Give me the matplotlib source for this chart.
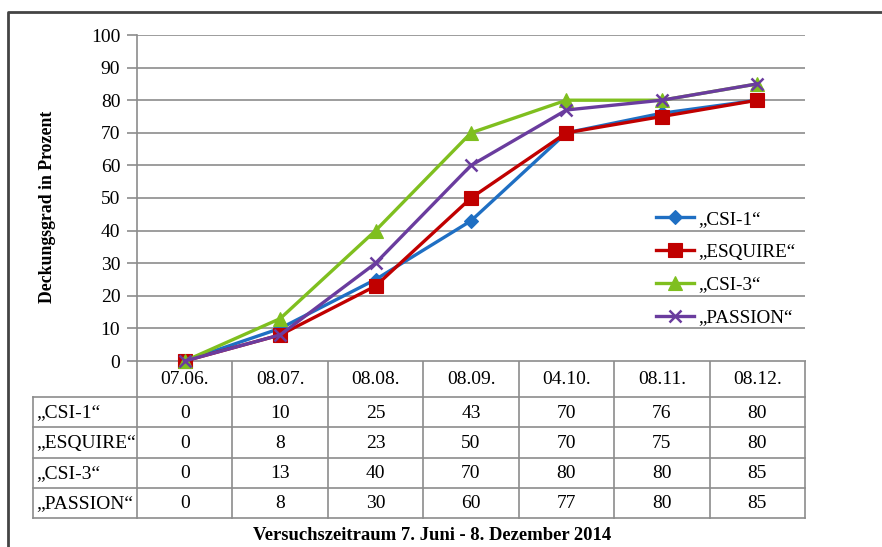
import numpy as np
import matplotlib.pyplot as plt

# daten
dates = ["07.06.", "08.07.", "08.08.", "08.09.", "04.10.", "08.11.", "08.12."]
names = ["„CSI-1“", "„ESQUIRE“", "„CSI-3“", "„PASSION“"]
csi1 = [0, 10, 25, 43, 70, 76, 80]
esquire = [0, 8, 23, 50, 70, 75, 80]
csi3 = [0, 13, 40, 70, 80, 80, 85]
passion = [0, 8, 30, 60, 77, 80, 85]
series = [csi1, esquire, csi3, passion]
yticks = [0, 10, 20, 30, 40, 50, 60, 70, 80, 90, 100]

colors = ["#1f6fc3", "#c00000", "#7fbf1f", "#6a3c9e"]
markers = ["D", "s", "^", "x"]
msizes = [7, 10, 10, 9]

plt.rcParams['font.family'] = ['Liberation Serif', 'DejaVu Serif']

W, H = 882, 547
fig = plt.figure(figsize=(W / 100, H / 100), dpi=100)

# pixel-layout
x0, x1 = 137, 805
y0, y100 = 361, 35
ax = fig.add_axes([x0 / W, (H - y0) / H, (x1 - x0) / W, (y0 - y100) / H])
ax.set_xlim(-0.5, len(dates) - 0.5)
ax.set_ylim(0, 100)
ax.set_yticks(yticks)
ax.set_xticks([])
ax.tick_params(axis='y', length=7, color='#8c8c8c', width=1.2, labelsize=14, pad=5)
for s in ["top", "right", "bottom"]:
    ax.spines[s].set_visible(False)
ax.spines["left"].set_color('#8c8c8c')
ax.spines["left"].set_linewidth(1.2)
for t in yticks:
    ax.axhline(t, color='#8c8c8c', lw=1.2, zorder=1)

x = np.arange(len(dates))
for vals, name, c, m, ms in zip(series, names, colors, markers, msizes):
    ax.plot(x, vals, color=c, lw=2.4, marker=m, ms=ms, mew=1.8 if m == "x" else 0.8,
            mec=c, label=name, clip_on=False, zorder=3)

leg = ax.legend(loc='upper left', bbox_to_anchor=((648 - x0) / (x1 - x0), (y0 - 203) / (y0 - y100)),
                frameon=False, fontsize=13.8, handlelength=2.0, labelspacing=0.8,
                handletextpad=0.2, borderaxespad=0)

# overlay in pixeln fuer tabelle und rahmen
ov = fig.add_axes([0, 0, 1, 1], zorder=-1)
ov.set_xlim(0, W)
ov.set_ylim(H, 0)
ov.axis('off')

# rahmen
ov.plot([8, 8, W + 5], [H + 5, 12, 12], color='#444444', lw=2, solid_capstyle='butt')

grid_c = '#8c8c8c'
colw = (x1 - x0) / len(dates)
rows = [361, 397, 427, 458, 488, 518]
lab_x = 33

# horizontale linien
ov.plot([x0, x1], [rows[0], rows[0]], color=grid_c, lw=1.2)
for r in rows[1:]:
    ov.plot([lab_x, x1], [r, r], color=grid_c, lw=1.2)
# vertikale linien
ov.plot([lab_x, lab_x], [rows[1], rows[-1]], color=grid_c, lw=1.2)
for i in range(len(dates) + 1):
    ov.plot([x0 + i * colw] * 2, [rows[0], rows[-1]], color=grid_c, lw=1.2)

for i, d in enumerate(dates):
    ov.text(x0 + (i + 0.5) * colw, (rows[0] + rows[1]) / 2 + 1, d, ha='center', va='center', fontsize=14)
for j, (name, vals) in enumerate(zip(names, series)):
    yc = (rows[j + 1] + rows[j + 2]) / 2 + 1
    ov.text(lab_x + 3, yc, name, ha='left', va='center', fontsize=14)
    for i, v in enumerate(vals):
        ov.text(x0 + (i + 0.5) * colw, yc, str(v), ha='center', va='center', fontsize=14)

ov.text(48, 207, "Deckungsgrad in Prozent", rotation=90, ha='center', va='center',
        fontsize=12.8, fontweight='bold')
ov.text(432, 535, "Versuchszeitraum 7. Juni - 8. Dezember 2014", ha='center', va='center',
        fontsize=13.4, fontweight='bold')

fig.savefig("out.png", dpi=100)
